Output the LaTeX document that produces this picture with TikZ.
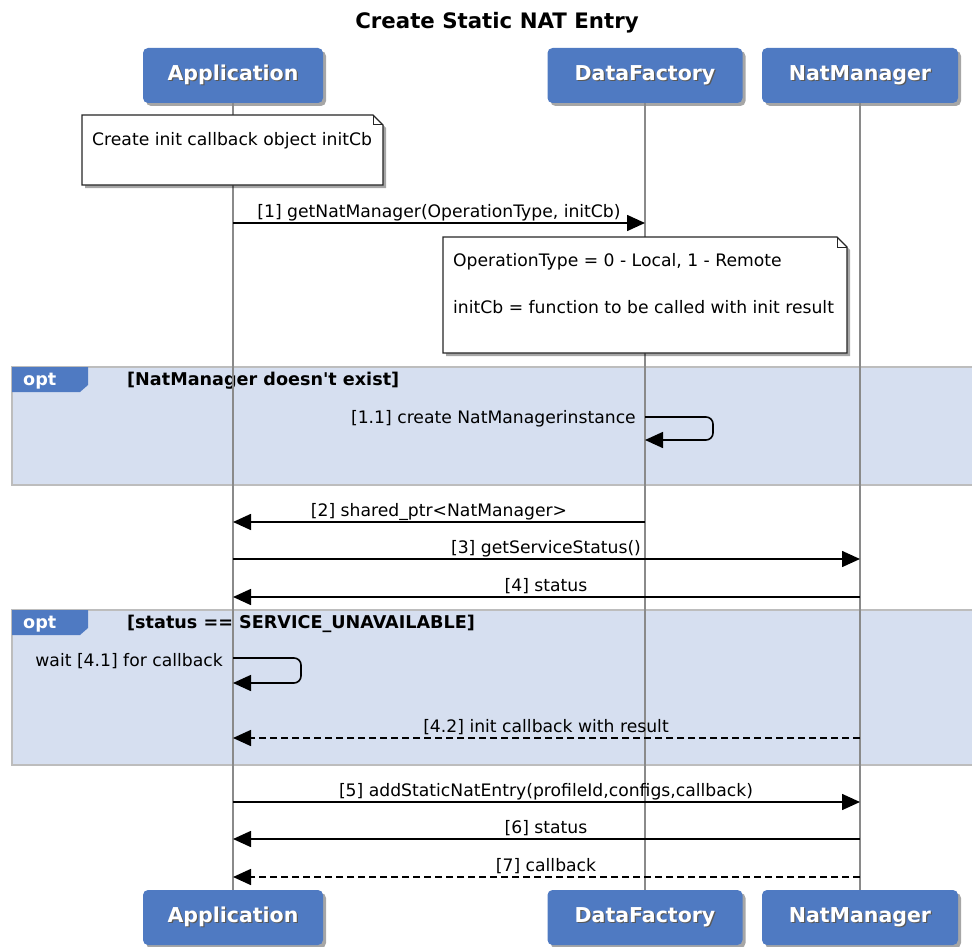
\documentclass[tikz,border=0pt]{standalone}
\usepackage{fontspec}
\setmainfont{DejaVu Sans}[Ligatures=TeXOff]
\usetikzlibrary{arrows.meta,shadows,calc}
\definecolor{pblue}{HTML}{4F7AC2}
\definecolor{optfill}{HTML}{D6DFF0}
\definecolor{optline}{HTML}{BDBDBD}
\definecolor{lifegray}{HTML}{8A8A8A}
\newcommand\shtext[1]{\makebox[0pt][l]{\hspace{1.2pt}\raisebox{-1.2pt}{\textcolor{black!65}{#1}}}\textcolor{white}{#1}}
\begin{document}
\begin{tikzpicture}[x=1pt,y=-1pt,
  part/.style={fill=pblue, rounded corners=5pt, minimum height=55pt, inner sep=0pt,
    font=\fontsize{20.5}{24}\selectfont\bfseries,
    drop shadow={shadow xshift=3pt,shadow yshift=-3pt,opacity=0.35,fill=black}},
  life/.style={draw=lifegray, line width=1.5pt},
  msg/.style={line width=1.6pt, -{Triangle[length=18pt,width=16pt]}},
  rmsg/.style={msg, dash pattern=on 7pt off 4pt},
  lbl/.style={font=\fontsize{17.2}{20}\selectfont, inner sep=0pt, anchor=base},
  notebox/.style={draw=black!85, fill=white, line width=1.3pt,
    drop shadow={shadow xshift=3pt,shadow yshift=-3pt,opacity=0.35,fill=black}},
  optframe/.style={draw=optline, fill=optfill, line width=1.5pt},
  opttab/.style={fill=pblue, draw=none},
  optlbl/.style={font=\fontsize{17.6}{20}\selectfont\bfseries, inner sep=0pt, anchor=base west},
]
\useasboundingbox (0,0) rectangle (972,947);

% title
\node[font=\fontsize{21.3}{25}\selectfont\bfseries, anchor=base] (title) at (497,29) {Create Static NAT Entry};

% opt frames (background)
\draw[optframe] (12,367) rectangle (985,485);
\draw[optframe] (12,610) rectangle (985,765);
\fill[opttab] (12,367) -- (88,367) -- (88,385) -- (80,392) -- (12,392) -- cycle;
\fill[opttab] (12,610) -- (88,610) -- (88,628) -- (80,635) -- (12,635) -- cycle;
\node[optlbl, text=white] (opt1) at (23,385) {opt};
\node[optlbl, text=white] (opt2) at (23,628) {opt};
\node[optlbl] (cond1) at (127,385) {[NatManager doesn't exist]};
\node[optlbl] (cond2) at (127,628) {[status == SERVICE\_UNAVAILABLE]};

% participants
\node[part, minimum width=180pt] (appT) at (233,75.5) {\shtext{Application}};
\node[part, minimum width=195pt] (dfT) at (645,75.5) {\shtext{DataFactory}};
\node[part, minimum width=196pt] (nmT) at (860,75.5) {\shtext{NatManager}};
\node[part, minimum width=180pt] (appB) at (233,917.5) {\shtext{Application}};
\node[part, minimum width=195pt] (dfB) at (645,917.5) {\shtext{DataFactory}};
\node[part, minimum width=196pt] (nmB) at (860,917.5) {\shtext{NatManager}};

% lifelines
\draw[life] (appT.south) -- (appB.north);
\draw[life] (dfT.south) -- (dfB.north);
\draw[life] (nmT.south) -- (nmB.north);

% note 1
\path[notebox] (82,115) -- (373,115) -- (383,125) -- (383,185) -- (82,185) -- cycle;
\draw[black!85, line width=1pt] (373,115) -- (373,125) -- (383,125);
\node[lbl, anchor=base west] (note1) at (92,146) {Create init callback object initCb};

% message 1
\draw[msg] (appT |- 0,223) -- (dfT |- 0,223);
\node[lbl] (l1) at (439,217.5) {[1] getNatManager(OperationType, initCb)};

% note 2
\path[notebox] (443,237) -- (837,237) -- (847,247) -- (847,353) -- (443,353) -- cycle;
\draw[black!85, line width=1pt] (837,237) -- (837,247) -- (847,247);
\node[lbl, anchor=base west] (note2a) at (453,266) {OperationType = 0 - Local, 1 - Remote};
\node[lbl, anchor=base west] (note2b) at (453,313) {initCb = function to be called with init result};

% 1.1 self message
\draw[msg, rounded corners=7pt] (dfT |- 0,417) -- (713,417) -- (713,440) -- (dfT |- 0,440);
\node[lbl, anchor=base east] (l11) at (636,423) {[1.1] create NatManagerinstance};

% 2
\draw[msg] (dfT |- 0,522) -- (appT |- 0,522);
\node[lbl] (l2) at (439,516.5) {[2] shared\_ptr<NatManager>};
% 3
\draw[msg] (appT |- 0,559) -- (nmT |- 0,559);
\node[lbl] (l3) at (546,553.5) {[3] getServiceStatus()};
% 4
\draw[msg] (nmT |- 0,597) -- (appT |- 0,597);
\node[lbl] (l4) at (546,591.5) {[4] status};

% 4.1 self
\draw[msg, rounded corners=7pt] (appT |- 0,658) -- (301,658) -- (301,683) -- (appT |- 0,683);
\node[lbl, anchor=base east] (l41) at (223,666) {wait [4.1] for callback};

% 4.2
\draw[rmsg] (nmT |- 0,738) -- (appT |- 0,738);
\node[lbl] (l42) at (546,732.5) {[4.2] init callback with result};

% 5
\draw[msg] (appT |- 0,802) -- (nmT |- 0,802);
\node[lbl] (l5) at (546,796.5) {[5] addStaticNatEntry(profileId,configs,callback)};
% 6
\draw[msg] (nmT |- 0,839) -- (appT |- 0,839);
\node[lbl] (l6) at (546,833.5) {[6] status};
% 7
\draw[rmsg] (nmT |- 0,877) -- (appT |- 0,877);
\node[lbl] (l7) at (546,871.5) {[7] callback};
\end{tikzpicture}
\end{document}
